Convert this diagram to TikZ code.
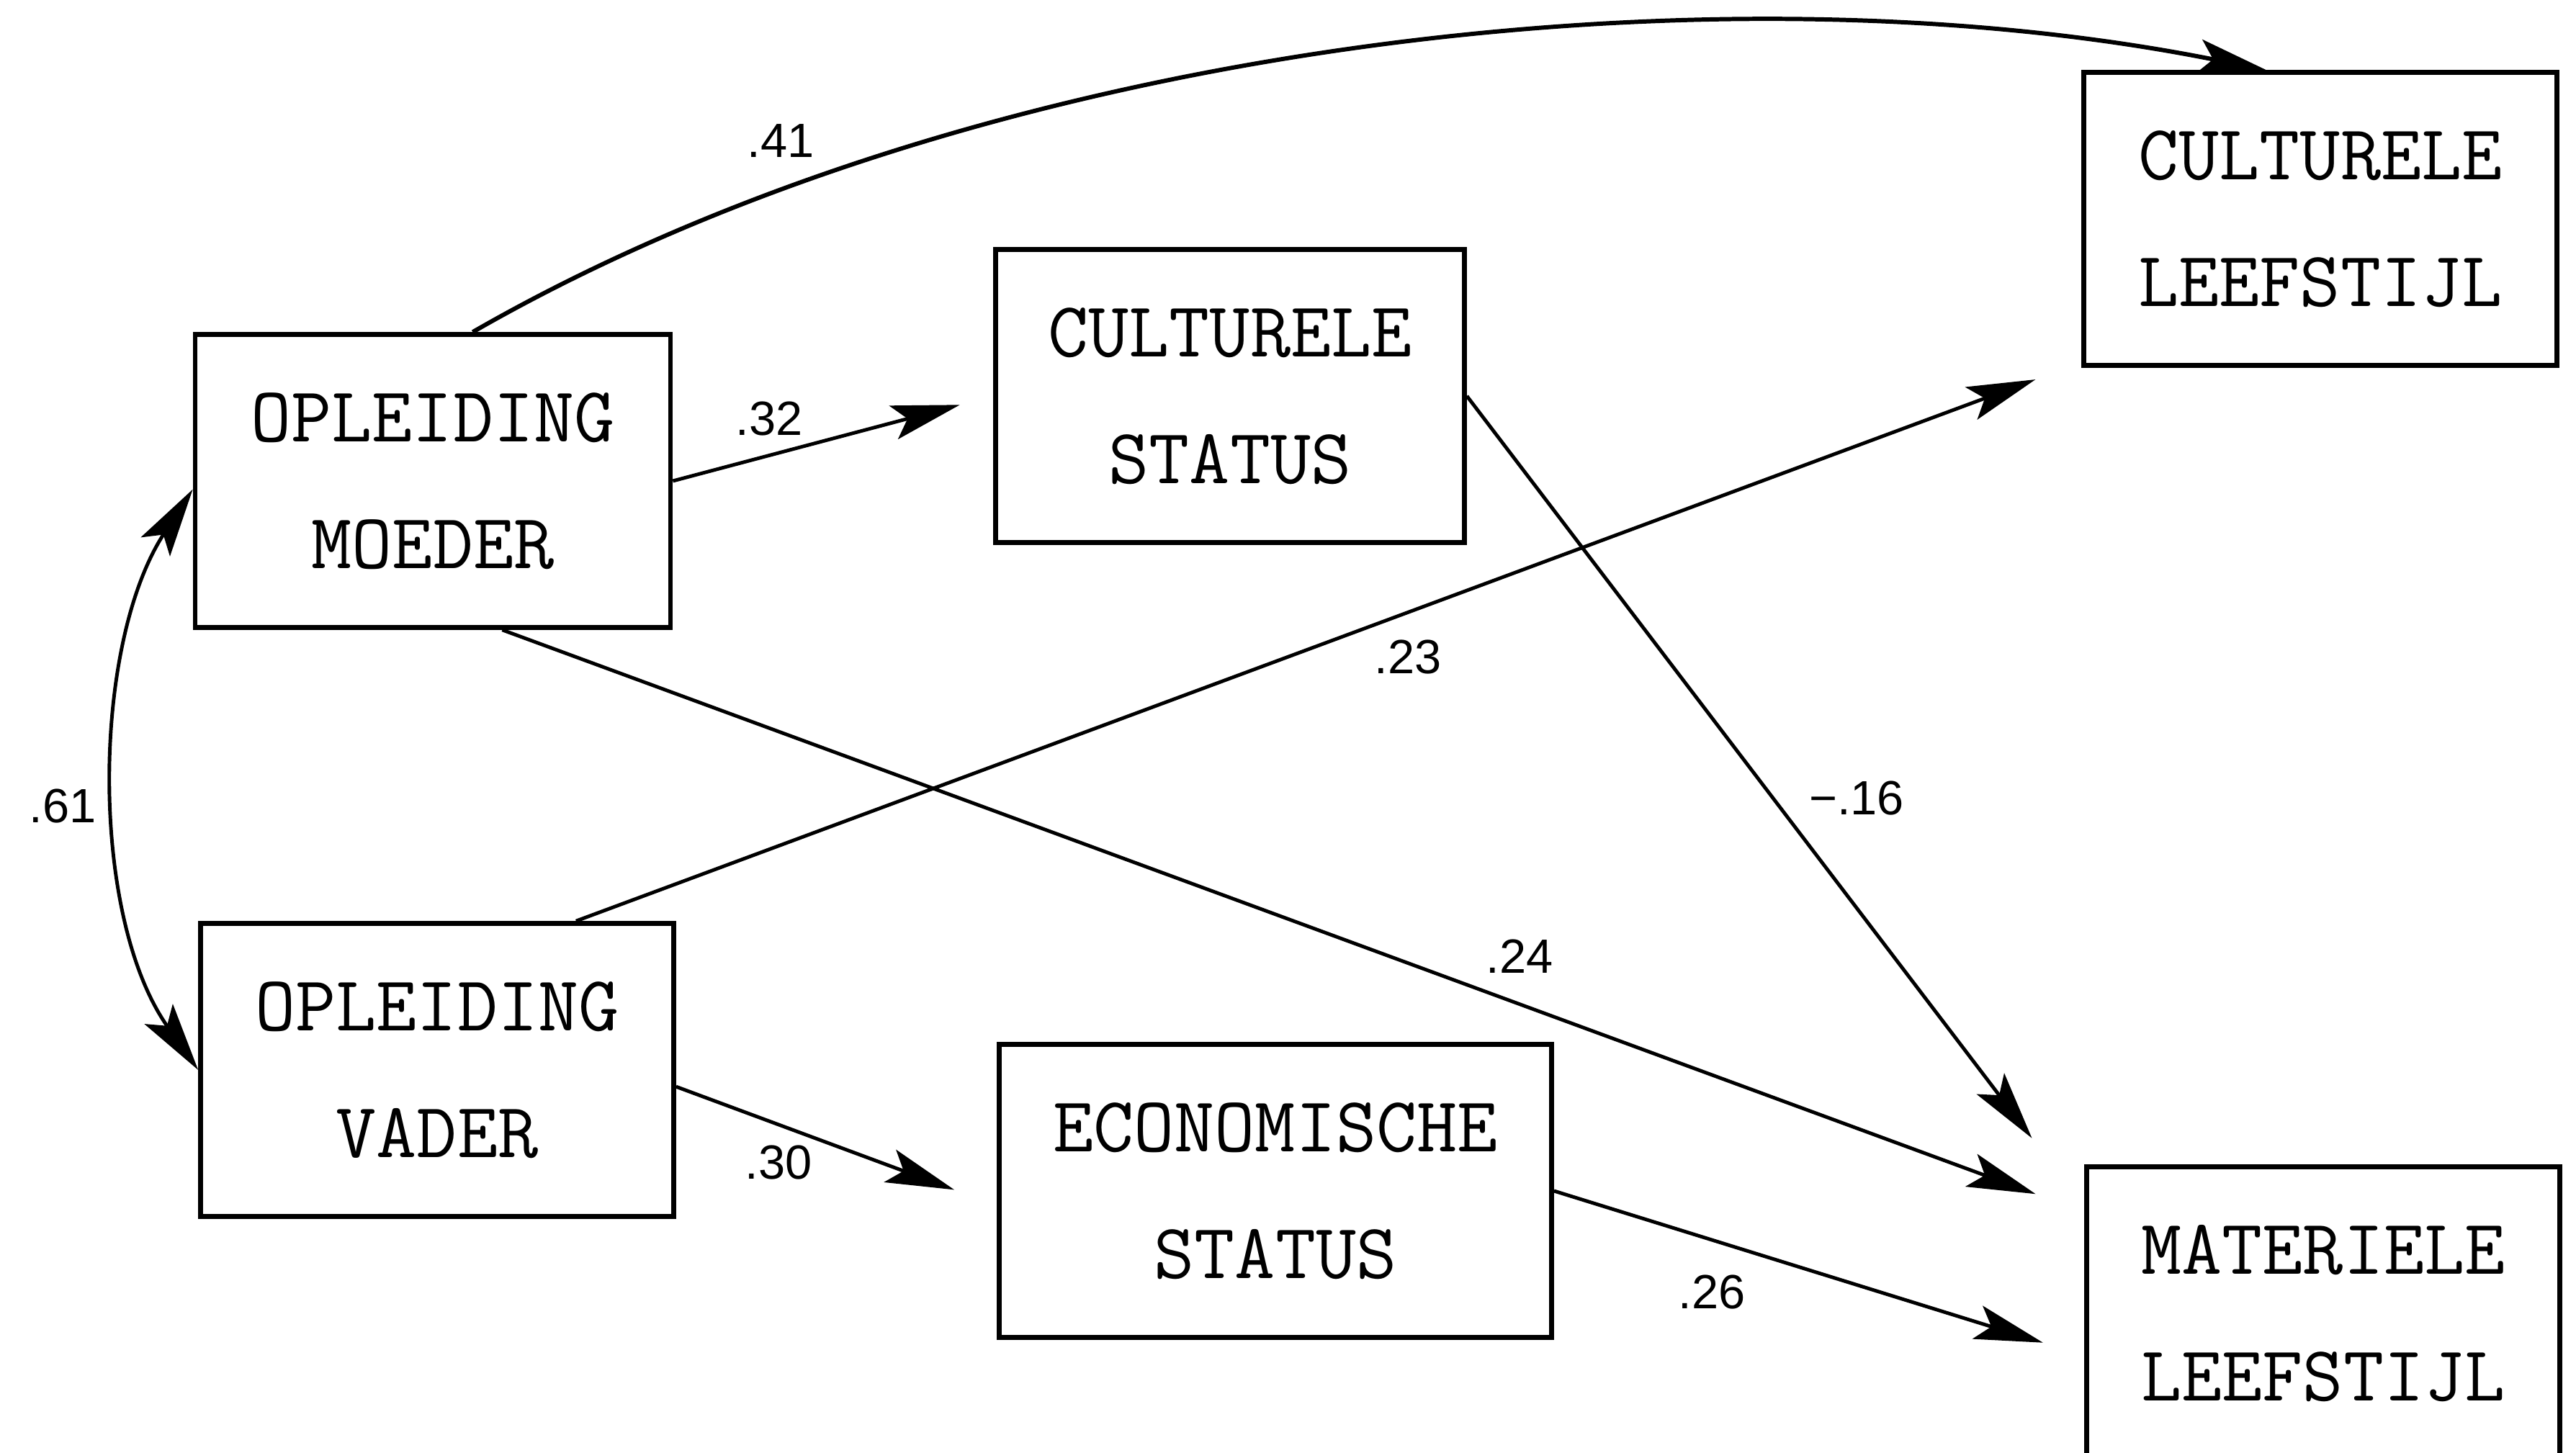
\documentclass[tikz,border=0pt]{standalone}
\usepackage{fontspec}
\newfontfamily\zahlfont{Liberation Sans}
\usetikzlibrary{arrows.meta}

\tikzset{
    kasten/.style={draw, line width=1.9pt, minimum width=6.57cm, minimum height=4.07cm,
        inner sep=0pt, align=center, font=\fontsize{31}{50}\selectfont\ttfamily},
    pfeil/.style={->, line width=1.4pt},
    zahl/.style={font=\fontsize{19}{22}\selectfont\zahlfont}
}

\begin{document}
\begin{tikzpicture}[scale=1.0, >={Stealth[length=0.95cm, width=0.48cm, inset=0.2cm]}]

        \useasboundingbox (0,0) rectangle (35.77,20.17);
        \clip (0,0) rectangle (35.77,20.17);

        % Kaesten
        \node[kasten, minimum width=6.60cm] (om) at (6.01,13.49) {OPLEIDING\\MOEDER};
        \node[kasten] (ov) at (6.07,5.31) {OPLEIDING\\VADER};
        \node[kasten, minimum width=6.51cm] (cs) at (17.08,14.67) {CULTURELE\\STATUS};
        \node[kasten, minimum width=7.67cm] (es) at (17.71,3.63) {ECONOMISCHE\\STATUS};
        \node[kasten] (cl) at (32.22,17.13) {CULTURELE\\LEEFSTIJL};
        \node[kasten] (ml) at (32.26,1.93) {MATERIELE\\LEEFSTIJL};

        % Pfeile
        \draw[pfeil, line width=1.7pt] (om.75) .. controls (13.5,19.55) and (23.7,20.75) .. (cl.110);
        \draw[pfeil, <->] (om.182) .. controls (1.27,11.21) and (1.24,7.45) .. (ov.west);
        \draw[pfeil, shorten >=0.48cm] (om.east) -- (cs.west);
        \draw[pfeil, shorten >=0.63cm] (ov.-4) -- (es.183);
        \draw[pfeil, shorten >=1.2cm] (cs.east) -- (ml.156);
        \draw[pfeil, shorten >=0.72cm] (om.-65) -- (ml.157);
        \draw[pfeil, shorten >=0.68cm] (ov.47) -- (cl.211);
        \draw[pfeil, shorten >=0.6cm] (es.east) -- (ml.190);

        % Zahlen
        \node[zahl] (z41) at (10.84,18.21) {.41};
        \node[zahl] (z32) at (10.68,14.35) {.32};
        \node[zahl] (z23) at (19.55,11.04) {.23};
        \node[zahl] (z16) at (25.78,9.08) {−.16};
        \node[zahl] (z24) at (21.10,6.89) {.24};
        \node[zahl] (z30) at (10.81,4.02) {.30};
        \node[zahl] (z26) at (23.77,2.22) {.26};
        \node[zahl] (z61) at (0.87,8.97) {.61};
\end{tikzpicture}
\end{document}
